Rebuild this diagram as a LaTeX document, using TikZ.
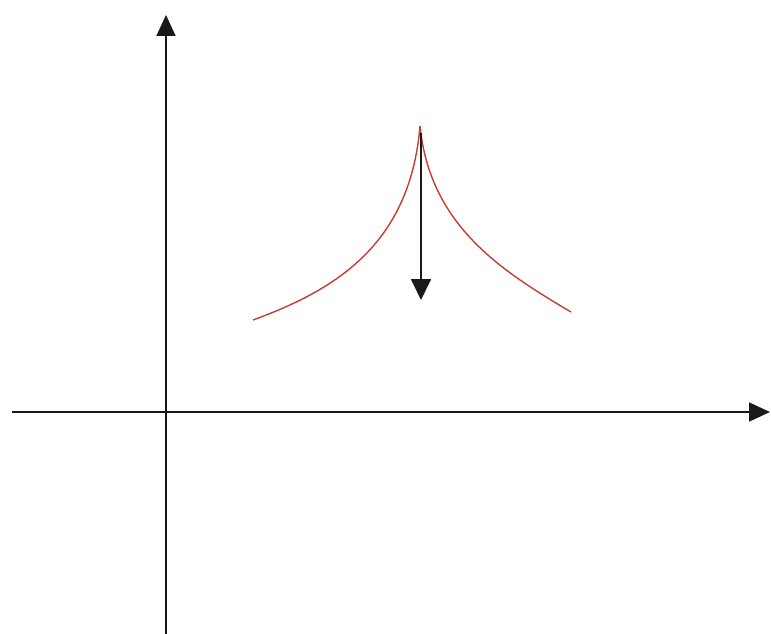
\documentclass[tikz,border=0pt]{standalone}
\usetikzlibrary{arrows.meta}
\begin{document}
\begin{tikzpicture}[x=1pt,y=-1pt,
  axis/.style={line width=1.8pt,black!90,-{Triangle[length=21pt,width=19pt]}},
  curve/.style={line width=1.4pt,color={rgb,255:red,200;green,60;blue,50}},
  force/.style={line width=1.8pt,black!90,-{Triangle[length=21pt,width=20pt]}}]
\useasboundingbox (0,0) rectangle (771,634);
\coordinate (xs) at (12,412);
\coordinate (xe) at (770,412);
\coordinate (ys) at (166,634);
\coordinate (ye) at (166,15);
\coordinate (L) at (253,320);
\coordinate (C) at (420,126);
\coordinate (R) at (571,312);
\coordinate (as) at (421,133);
\coordinate (ae) at (421,300);
\draw[axis] (xs) -- (xe);
\draw[axis] (ys) -- (ye);
\draw[curve] (L) .. controls (335,290) and (410,245) .. (C);
\draw[curve] (C) .. controls (430,225) and (500,270) .. (R);
\draw[force] (as) -- (ae);
\end{tikzpicture}
\end{document}
